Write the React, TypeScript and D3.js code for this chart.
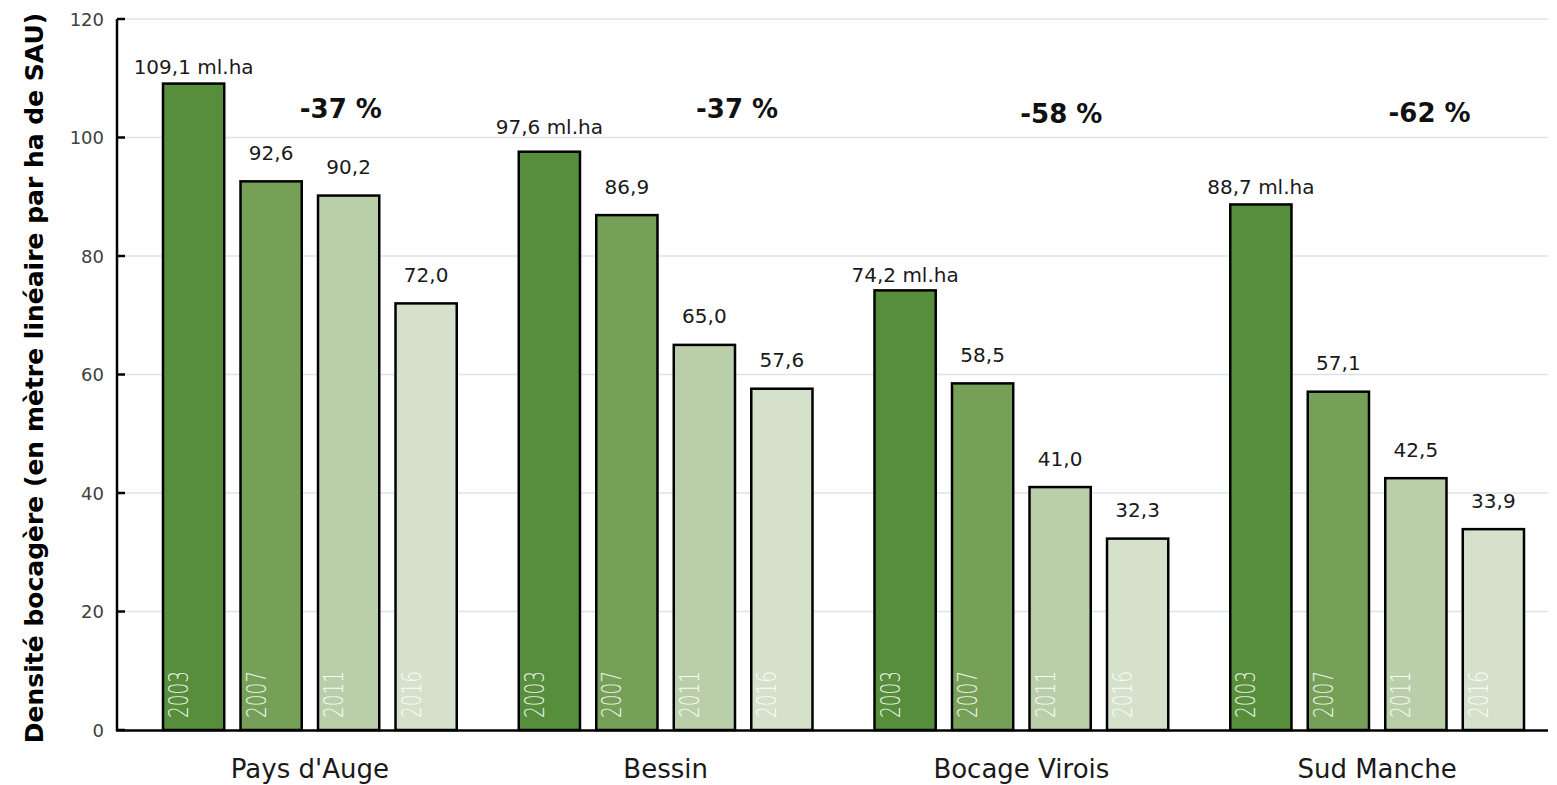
import React from "react";
import * as d3 from "d3";

const categories = ["Pays d'Auge", "Bessin", "Bocage Virois", "Sud Manche"];
const years = ["2003", "2007", "2011", "2016"];
const values2003 = [109.1, 97.6, 74.2, 88.7];
const values2007 = [92.6, 86.9, 58.5, 57.1];
const values2011 = [90.2, 65.0, 41.0, 42.5];
const values2016 = [72.0, 57.6, 32.3, 33.9];
const changes = ["-37 %", "-37 %", "-58 %", "-62 %"];
const yTicks = [0, 20, 40, 60, 80, 100, 120];
const yTitle = "Densité bocagère (en mètre linéaire par ha de SAU)";
const unit = " ml.ha";

const seriesValues = [values2003, values2007, values2011, values2016];
const colors = ["#578e3c", "#76a058", "#bacfa9", "#d5e1cb"];

// layout tweaks (px)
const firstLabelGap = [10, 18, 8, 10.5];
const otherLabelGap = 21.5;
const changeDx = [31, 71.5, 40, 52.5];
const changeY = [118, 118, 123, 122];

const W = 1557;
const H = 785;
const FONT = "'DejaVu Sans', 'Liberation Sans', sans-serif";

export default function App() {
  const axisLeft = 117;
  const axisRight = 1548;
  const y = d3.scaleLinear().domain([0, 120]).range([730, 19]);
  const xCat = d3.scaleBand<string>().domain(categories).range([132, 1555]);
  const xYear = d3
    .scaleBand<string>()
    .domain(years)
    .range([0, xCat.bandwidth()])
    .paddingInner(0.21)
    .paddingOuter(0.4);
  const fmt = (v: number) => d3.format(".1f")(v).replace(".", ",");

  return (
    <svg
      width={W}
      height={H}
      style={{ position: "absolute", left: 0, top: 0, background: "#fff" }}
      fontFamily={FONT}
    >
      {/* gridlines */}
      {yTicks
        .filter((t) => t > 0)
        .map((t) => (
          <line
            key={"g" + t}
            x1={axisLeft}
            x2={axisRight}
            y1={y(t)}
            y2={y(t)}
            stroke="#dde3ea"
            strokeWidth={1.5}
          />
        ))}

      {/* bars */}
      {categories.map((c, ci) =>
        years.map((yr, yi) => {
          const v = seriesValues[yi][ci];
          const bx = (xCat(c) as number) + (xYear(yr) as number);
          const bw = xYear.bandwidth();
          const cx = bx + bw / 2;
          const top = y(v);
          const gap = yi === 0 ? firstLabelGap[ci] : otherLabelGap;
          return (
            <g key={c + yr}>
              <rect
                x={bx}
                y={top}
                width={bw}
                height={y(0) - top}
                fill={colors[yi]}
                stroke="#000"
                strokeWidth={2.5}
              />
              <text
                x={cx}
                y={top - gap}
                textAnchor="middle"
                fontSize={20}
                fill="#1a1a1a"
              >
                {fmt(v) + (yi === 0 ? unit : "")}
              </text>
              <text
                transform={`translate(${bx + 25},${y(0) - 12}) rotate(-90) scale(1,1.4)`}
                fontSize={18.5}
                fill="#ffffff"
                fillOpacity={0.9}
                fontWeight={300}
              >
                {yr}
              </text>
            </g>
          );
        })
      )}

      {/* change labels */}
      {categories.map((c, ci) => (
        <text
          key={"chg" + c}
          x={(xCat(c) as number) + xCat.bandwidth() / 2 + changeDx[ci]}
          y={changeY[ci]}
          textAnchor="middle"
          fontSize={26}
          fontWeight="bold"
          fill="#111"
        >
          {changes[ci]}
        </text>
      ))}

      {/* axes */}
      <line x1={axisLeft} x2={axisLeft} y1={y(120)} y2={y(0) + 1} stroke="#000" strokeWidth={2.5} />
      <line x1={axisLeft - 1} x2={axisRight} y1={y(0) + 0.5} y2={y(0) + 0.5} stroke="#000" strokeWidth={2.5} />
      {yTicks.map((t) => (
        <g key={"t" + t}>
          <line x1={axisLeft} x2={axisLeft + 8} y1={y(t)} y2={y(t)} stroke="#000" strokeWidth={2.5} />
          <text
            x={104}
            y={y(t)}
            dy="0.38em"
            textAnchor="end"
            fontSize={18}
            fill="#404040"
          >
            {t}
          </text>
        </g>
      ))}

      {/* category labels */}
      {categories.map((c) => (
        <text
          key={"cat" + c}
          x={(xCat(c) as number) + xCat.bandwidth() / 2}
          y={778}
          textAnchor="middle"
          fontSize={26}
          fill="#1a1a1a"
        >
          {c}
        </text>
      ))}

      {/* y title */}
      <text
        transform={`translate(43,378) rotate(-90)`}
        textAnchor="middle"
        fontSize={25}
        fontWeight="bold"
        fill="#000"
      >
        {yTitle}
      </text>
    </svg>
  );
}
